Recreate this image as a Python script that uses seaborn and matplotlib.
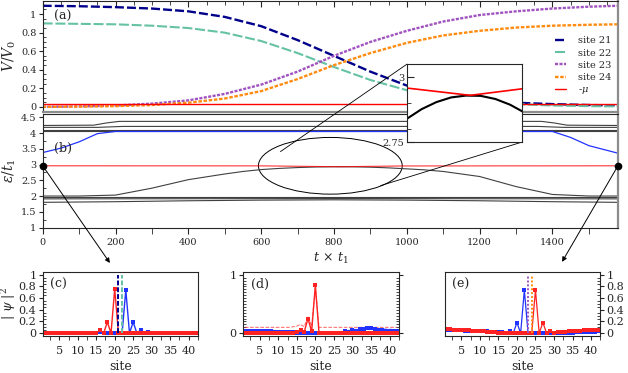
import matplotlib
matplotlib.use('Agg')
import matplotlib.pyplot as plt
import seaborn as sns
from matplotlib.patches import Ellipse, ConnectionPatch
from matplotlib.ticker import MultipleLocator, FuncFormatter

# ---- (a) occupations of the four sites vs time
t_a = [0, 100, 200, 300, 400, 500, 600, 700, 800, 900, 1000, 1100, 1200, 1300, 1400, 1500, 1580]
site21 = [1.09, 1.085, 1.075, 1.06, 1.03, 0.97, 0.87, 0.72, 0.55, 0.38, 0.23, 0.13, 0.075, 0.045, 0.03, 0.02, 0.015]
site22 = [0.90, 0.895, 0.89, 0.875, 0.85, 0.80, 0.71, 0.58, 0.43, 0.29, 0.18, 0.10, 0.055, 0.03, 0.015, 0.008, 0.005]
site23 = [0.0, 0.005, 0.015, 0.035, 0.07, 0.14, 0.24, 0.38, 0.55, 0.70, 0.82, 0.92, 0.99, 1.03, 1.06, 1.08, 1.09]
site24 = [0.0, 0.003, 0.008, 0.02, 0.045, 0.09, 0.17, 0.30, 0.45, 0.58, 0.69, 0.77, 0.82, 0.855, 0.875, 0.885, 0.89]
t_mu_a = [0, 1580]
mu_a = [0.03, 0.03]

# ---- (b) single particle levels
levels_b = [
    ([0, 140, 175, 210, 1370, 1405, 1440, 1580], [4.24, 4.25, 4.32, 4.37, 4.37, 4.32, 4.25, 4.24]),
    ([0, 150, 220, 1360, 1430, 1580], [4.18, 4.18, 4.21, 4.21, 4.18, 4.18]),
    ([0, 1580], [4.11, 4.11]),
    ([0, 1580], [4.07, 4.07]),
    ([0, 1580], [1.97, 1.97]),
    ([0, 800, 1580], [1.91, 1.92, 1.91]),
    ([0, 200, 400, 600, 800, 1000, 1200, 1400, 1580], [1.80, 1.82, 1.85, 1.87, 1.88, 1.87, 1.85, 1.82, 1.80]),
]
t_lvl_blue = [0, 50, 100, 150, 200, 1400, 1450, 1500, 1580]
lvl_blue = [3.38, 3.52, 3.72, 3.98, 4.05, 4.05, 3.86, 3.6, 3.36]
t_cross = [0, 100, 200, 300, 400, 500, 550, 600, 650, 700, 750, 800, 850, 900, 950, 1000,
           1050, 1100, 1200, 1300, 1400, 1500, 1580]
lvl_cross = [2.0, 2.0, 2.03, 2.25, 2.52, 2.7, 2.78, 2.84, 2.877, 2.904, 2.922, 2.929, 2.928, 2.916,
             2.894, 2.863, 2.83, 2.78, 2.62, 2.3, 2.05, 2.0, 2.0]
t_mu = [0, 600, 815, 990, 1580]
lvl_mu = [2.96, 2.958, 2.93, 2.955, 2.96]

# ---- (c)-(e) |psi|^2 on the 42 sites
sites = list(range(1, 43))
c_red = [0, 0, 0, 0, 0, 0, 0, 0, 0, 0,
         0, 0.005, 0, 0.01, 0, 0.05, 0, 0.19, 0, 0.76,
         0, 0, 0, 0, 0, 0, 0, 0, 0, 0,
         0, 0, 0, 0, 0, 0, 0, 0, 0, 0, 0, 0]
c_blue = [0, 0, 0, 0, 0, 0, 0, 0, 0, 0,
          0, 0, 0, 0, 0, 0.02, 0, 0, 0, 0,
          0, 0, 0.74, 0, 0.19, 0, 0.05, 0, 0.02, 0,
          0.005, 0, 0, 0, 0, 0, 0, 0, 0, 0, 0, 0]
d_red = [0.005, 0.005, 0.005, 0.005, 0.005, 0.005, 0.005, 0.005, 0.005, 0.005,
         0.005, 0.005, 0.01, 0.01, 0.02, 0.06, 0.02, 0.25, 0.03, 0.82,
         0, 0, 0, 0, 0, 0, 0, 0, 0, 0,
         0, 0, 0, 0, 0, 0, 0, 0, 0, 0, 0, 0]
d_red_faint = [0.1, 0.1, 0.1, 0.1, 0.1, 0.1, 0.1, 0.1, 0.1, 0.1,
               0.1, 0.1, 0.1, 0.11, 0.12, 0.15, 0.11, 0.29, 0.12, 0.78,
               0.1, 0.1, 0.1, 0.1, 0.1, 0.1, 0.1, 0.1, 0.1, 0.1,
               0.1, 0.1, 0.1, 0.1, 0.1, 0.1, 0.1, 0.1, 0.1, 0.1, 0.1, 0.1]
d_blue = [0.04, 0.04, 0.04, 0.035, 0.035, 0.03, 0.03, 0.03, 0.025, 0.025,
          0.02, 0.02, 0.02, 0.015, 0.01, 0.01, 0.005, 0, 0, 0,
          0, 0, 0, 0, 0, 0, 0.005, 0.03, 0.02, 0.06,
          0.04, 0.07, 0.075, 0.08, 0.08, 0.075, 0.06, 0.05, 0.045, 0.04, 0.035, 0.03]
d_blue_faint = [0.06, 0.06, 0.06, 0.055, 0.055, 0.055, 0.05, 0.05, 0.05, 0.045,
                0.045, 0.04, 0.04, 0.035, 0.03, 0.03, 0.025, 0.02, 0.02, 0.02,
                0.02, 0.02, 0.02, 0.02, 0.02, 0.025, 0.03, 0.04, 0.05, 0.06,
                0.07, 0.08, 0.085, 0.09, 0.09, 0.09, 0.085, 0.08, 0.075, 0.07, 0.065, 0.06]
e_red = [0.065, 0.065, 0.06, 0.06, 0.055, 0.055, 0.05, 0.045, 0.04, 0.035,
         0.03, 0.025, 0.02, 0.015, 0.01, 0.01, 0.005, 0.005, 0, 0,
         0, 0, 0, 0, 0.74, 0, 0.18, 0, 0.03, 0.01,
         0.015, 0.02, 0.025, 0.03, 0.035, 0.04, 0.045, 0.05, 0.055, 0.06, 0.06, 0.06]
e_blue = [0.05, 0.05, 0.05, 0.05, 0.05, 0.045, 0.045, 0.04, 0.04, 0.035,
          0.03, 0.03, 0.025, 0.02, 0.02, 0.015, 0.01, 0.03, 0, 0.18,
          0, 0.74, 0, 0, 0, 0, 0, 0, 0, 0,
          0, 0.005, 0.005, 0.01, 0.01, 0.015, 0.015, 0.02, 0.02, 0.025, 0.025, 0.03]
marked_c = [21, 22]
marked_e = [23, 24]

sns.set_style('ticks')
plt.rcParams['font.family'] = ['DejaVu Serif']
plt.rcParams['mathtext.fontset'] = 'dejavuserif'
plt.rcParams['axes.linewidth'] = 0.8

navy, aqua, purple, orange = '#00008b', '#66c2a5', '#a052c0', '#ff8c10'
red, blue = '#ff2222', '#2233ff'
fmt = FuncFormatter(lambda v, p: f'{v:g}')


def draw(ax, x, y, **kw):
    sns.lineplot(x=x, y=y, ax=ax, estimator=None, sort=False, errorbar=None, **kw)
    return ax.lines[-1]


fig = plt.figure(figsize=(6.28, 3.73), dpi=100)

# ---------------- (a)
ax_a = fig.add_axes([0.068, 0.701, 0.916, 0.296])
handles = []
for vals, col, lw, dash, lab in [(site21, navy, 1.7, (3.8, 1.3), 'site 21'),
                                 (site22, aqua, 1.5, (4.8, 1.3), 'site 22'),
                                 (site23, purple, 1.7, (1.3, 0.6), 'site 23'),
                                 (site24, orange, 1.7, (1.5, 0.7), 'site 24')]:
    ln = draw(ax_a, t_a, vals, color=col, linewidth=lw)
    ln.set_dashes(dash)
    ln.set_label(lab)
    handles.append(ln)
ln = draw(ax_a, t_mu_a, mu_a, color='red', linewidth=1.0)
ln.set_label(r'-$\mu$')
handles.append(ln)
ax_a.legend(handles=handles, loc='center right', bbox_to_anchor=(0.995, 0.41), frameon=False,
            fontsize=7, handlelength=1.1, handletextpad=1.2, labelspacing=0.33, borderaxespad=0)
ax_a.set_xlim(0, 1580)
ax_a.set_ylim(-0.05, 1.14)
ax_a.yaxis.set_major_locator(MultipleLocator(0.2))
ax_a.yaxis.set_minor_locator(MultipleLocator(0.05))
ax_a.yaxis.set_major_formatter(fmt)
ax_a.xaxis.set_major_locator(MultipleLocator(200))
ax_a.xaxis.set_minor_locator(MultipleLocator(50))
ax_a.tick_params(axis='x', which='both', top=True, bottom=False, labelbottom=False, direction='in')
ax_a.tick_params(axis='x', which='major', length=4)
ax_a.tick_params(axis='x', which='minor', length=3)
ax_a.tick_params(axis='y', which='major', direction='out', length=3, labelsize=7, pad=1.5)
ax_a.tick_params(axis='y', which='minor', direction='in', length=2)
for s in ['bottom', 'right']:
    ax_a.spines[s].set_color('0.55')
    ax_a.spines[s].set_linewidth(1.6)
ax_a.set_xlabel('')
ax_a.set_ylabel(r'$V/V_0$', fontsize=10, labelpad=2)
ax_a.text(0.02, 0.86, '(a)', transform=ax_a.transAxes, fontsize=9, va='center')

# ---------------- (b)
ax_b = fig.add_axes([0.068, 0.390, 0.916, 0.304])
for tt, ee in levels_b:
    draw(ax_b, tt, ee, color='0.25', linewidth=0.8)
draw(ax_b, t_lvl_blue, lvl_blue, color=blue, linewidth=0.9)
draw(ax_b, t_cross, lvl_cross, color='0.25', linewidth=0.8)
draw(ax_b, t_mu, lvl_mu, color='red', linewidth=0.8, alpha=0.8)
ax_b.plot([t_mu[0], t_mu[-1]], [lvl_mu[0], lvl_mu[-1]], 'o', color='k', ms=4.5, clip_on=False, zorder=6)
ax_b.add_patch(Ellipse((790, 2.96), 395, 1.8, fill=False, ec='k', lw=0.7))
ax_b.set_xlim(0, 1580)
ax_b.set_ylim(1, 4.6)
ax_b.xaxis.set_major_locator(MultipleLocator(200))
ax_b.xaxis.set_minor_locator(MultipleLocator(100))
ax_b.yaxis.set_major_locator(MultipleLocator(0.5))
ax_b.yaxis.set_minor_locator(MultipleLocator(0.25))
ax_b.yaxis.set_major_formatter(fmt)
ax_b.tick_params(axis='y', which='major', direction='out', length=3, labelsize=7, pad=1.5)
ax_b.tick_params(axis='x', which='both', direction='out', length=4, labelsize=7, pad=3.5)
ax_b.tick_params(axis='y', which='minor', direction='in', length=2)
ax_b.spines['right'].set_color('0.55')
ax_b.spines['right'].set_linewidth(1.6)
ax_b.set_ylabel(r'$\varepsilon/t_1$', fontsize=10, labelpad=2)
ax_b.set_xlabel(r'$t\,\times\,t_1$', fontsize=9, labelpad=3)
ax_b.text(0.02, 0.70, '(b)', transform=ax_b.transAxes, fontsize=9, va='center')

# ---------------- inset
ax_in = fig.add_axes([0.648, 0.619, 0.183, 0.209])
ax_in.set_zorder(5)
draw(ax_in, t_cross, lvl_cross, color='k', linewidth=1.5)
draw(ax_in, t_mu, lvl_mu, color='red', linewidth=1.2)
ax_in.set_xlim(600, 990)
ax_in.set_ylim(2.75, 3.05)
ax_in.set_xticks([])
ax_in.set_yticks([2.75, 3])
ax_in.set_yticklabels(['2.75', '3'])
ax_in.set_yticks([2.8, 2.9], minor=True)
ax_in.tick_params(axis='y', which='major', direction='in', length=5, labelsize=7, pad=2)
ax_in.tick_params(axis='y', which='minor', direction='in', length=3)
ax_in.set_xlabel('')
ax_in.set_ylabel('')

for xyA, xyB in [((653, 3.41), (0, 1)), ((928, 2.33), (1, 0))]:
    fig.add_artist(ConnectionPatch(xyA=xyA, coordsA=ax_b.transData, xyB=xyB,
                                   coordsB=ax_in.transAxes, color='k', lw=0.6))
for xyA, xyB in [((t_mu[0], lvl_mu[0]), (0.175, 0.295)), ((t_mu[-1], lvl_mu[-1]), (0.895, 0.298))]:
    fig.add_artist(ConnectionPatch(xyA=xyA, coordsA=ax_b.transData, xyB=xyB,
                                   coordsB=fig.transFigure, color='k', lw=0.7,
                                   arrowstyle='-|>', mutation_scale=7))

# ---------------- (c), (d), (e)
ax_c = fig.add_axes([0.068, 0.099, 0.247, 0.172])
ax_d = fig.add_axes([0.387, 0.099, 0.248, 0.172])
ax_e = fig.add_axes([0.708, 0.099, 0.248, 0.172])

mk = dict(marker='s', markersize=2.2, markeredgewidth=0)
draw(ax_c, sites, c_blue, color=blue, linewidth=1.0, **mk)
draw(ax_c, sites, c_red, color=red, linewidth=1.0, **mk)
ax_c.vlines(marked_c[0], 0, 1, color=navy, lw=1.4, linestyles=(0, (2.5, 1)))
ax_c.vlines(marked_c[1], 0, 1, color=aqua, lw=1.4, linestyles=(0, (2.5, 1)))

ax_d.axhline(0, color='k', lw=1.2)
draw(ax_d, sites, d_blue_faint, color=blue, linewidth=0.7, alpha=0.45, linestyle='--')
draw(ax_d, sites, d_red_faint, color=red, linewidth=0.7, alpha=0.7, linestyle='--')
draw(ax_d, sites, d_blue, color=blue, linewidth=1.0, **mk)
draw(ax_d, sites, d_red, color=red, linewidth=1.0, **mk)

draw(ax_e, sites, e_blue, color=blue, linewidth=0.9, **mk)
draw(ax_e, sites, e_red, color=red, linewidth=0.9, **mk)
ax_e.vlines(marked_e[0], 0, 1, color=purple, lw=1.4, linestyles=(0, (1, 1)))
ax_e.vlines(marked_e[1], 0, 1, color=orange, lw=1.4, linestyles=(0, (1, 1)))

for ax, lab in [(ax_c, '(c)'), (ax_d, '(d)'), (ax_e, '(e)')]:
    ax.set_xlim(0.5, 42.5)
    ax.set_ylim(-0.05, 1.05)
    ax.xaxis.set_major_locator(MultipleLocator(5))
    ax.xaxis.set_minor_locator(MultipleLocator(2.5))
    ax.yaxis.set_minor_locator(MultipleLocator(0.05))
    ax.yaxis.set_major_formatter(fmt)
    ax.tick_params(axis='x', which='both', direction='out', length=3, labelsize=8, pad=4)
    ax.tick_params(axis='y', which='major', direction='out', length=3, labelsize=8, pad=1.5)
    ax.tick_params(axis='y', which='minor', direction='in', length=2)
    ax.set_xlabel('site', fontsize=9, labelpad=3)
    ax.set_ylabel('')
    ax.text(0.05, 0.80, lab, transform=ax.transAxes, fontsize=9, va='center')

ax_c.yaxis.set_major_locator(MultipleLocator(0.2))
ax_c.set_ylabel(r'$|\ \psi\ |^2$', fontsize=9)
ax_c.yaxis.set_label_coords(-0.16, 0.5)
ax_d.set_yticks([0, 1])
ax_d.tick_params(axis='y', which='both', right=True)
ax_e.yaxis.set_major_locator(MultipleLocator(0.2))
ax_e.yaxis.tick_right()
ax_e.tick_params(axis='y', which='both', left=False, right=True)

fig.savefig('out.png', dpi=100)
